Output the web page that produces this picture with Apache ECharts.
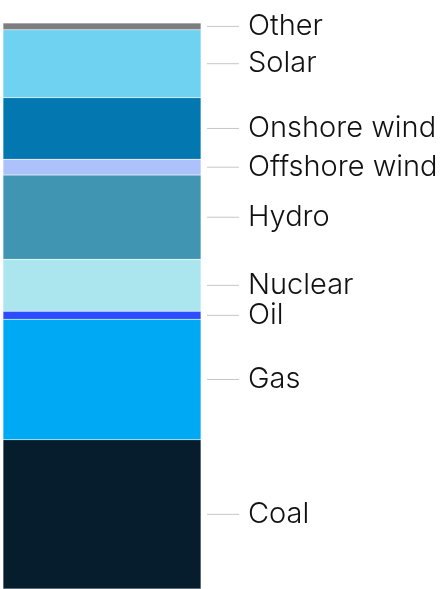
<!DOCTYPE html>
<html>
<head>
<meta charset="utf-8">
<script src="https://cdn.jsdelivr.net/npm/echarts@6/dist/echarts.min.js"></script>
<style>
html,body{margin:0;padding:0;background:#fff;}
#mixChart{width:444px;height:589px;}
</style>
</head>
<body>
<div id="mixChart"></div>
<script>
// generation mix, share in %, stacked bottom to top
var sources = ['Coal', 'Gas', 'Oil', 'Nuclear', 'Hydro', 'Offshore wind', 'Onshore wind', 'Solar', 'Other'];
var shares = [26.4, 21.3, 1.4, 9.2, 14.9, 2.8, 10.9, 12.0, 1.2];
var colors = ['#061d2d', '#00a9f3', '#2b4dff', '#abe6ef', '#3f95b2', '#adc2fb', '#0277b0', '#6ed2f0', '#7c7e82'];

var total = 0;
for (var i = 0; i < shares.length; i++) {
	total += shares[i];
}

var myChart = echarts.init(document.getElementById('mixChart'));

var series = [];
for (var a = 0; a < sources.length; a++) {
	series.push({
		name: sources[a],
		type: 'bar',
		stack: 'mix',
		barWidth: '100%',
		data: [shares[a]],
		itemStyle: {
			color: colors[a],
			borderColor: 'rgba(255,255,255,0.35)',
			borderWidth: 0.5
		},
		label: {
			show: true,
			position: 'right',
			distance: 6,
			formatter: '{l|}{g|}{t|' + sources[a] + '}',
			rich: {
				l: { width: 32, height: 1, backgroundColor: '#c6c6c6' },
				g: { width: 9, height: 1 },
				t: { fontSize: 29, fontWeight: 300, color: '#111', fontFamily: 'Inter' }
			}
		},
		emphasis: { disabled: true }
	});
}

var option = {
	animation: false,
	grid: {
		left: 3,
		right: 243,
		top: 23,
		bottom: 0
	},
	xAxis: {
		type: 'category',
		data: ['mix'],
		show: false
	},
	yAxis: {
		type: 'value',
		min: 0,
		max: total,
		show: false
	},
	series: series
};
myChart.setOption(option, true);
</script>
</body>
</html>
